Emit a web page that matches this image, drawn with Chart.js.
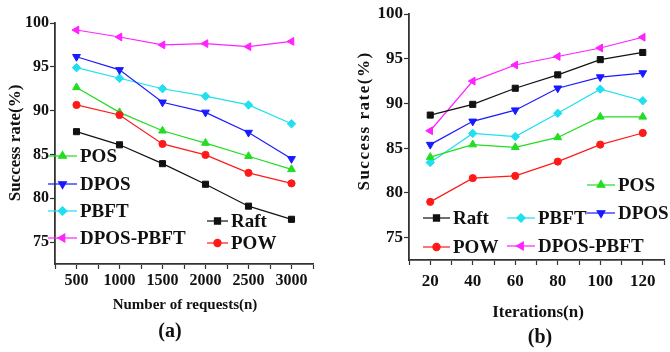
<!DOCTYPE html>
<html>
<head>
<meta charset="utf-8">
<script src="https://cdn.jsdelivr.net/npm/chart.js@4.4.1/dist/chart.umd.min.js"></script>
<style>
  body { margin: 0; background: #fff; }
  .wrap { position: absolute; top: 0; width: 335px; height: 352px; }
</style>
</head>
<body>
<div class="wrap" style="left:0"><canvas id="chartA" width="335" height="352"></canvas></div>
<div class="wrap" style="left:335px"><canvas id="chartB" width="335" height="352"></canvas></div>
<script>
// (a) success rate vs number of requests
var requests = [500, 1000, 1500, 2000, 2500, 3000];
var raftA = [87.6, 86.1, 83.95, 81.6, 79.1, 77.6];
var powA = [90.65, 89.5, 86.2, 84.95, 82.9, 81.7];
var posA = [92.65, 89.8, 87.7, 86.3, 84.8, 83.3];
var dposA = [96.15, 94.65, 90.95, 89.8, 87.5, 84.5];
var pbftA = [94.9, 93.7, 92.5, 91.65, 90.65, 88.5];
var dposPbftA = [99.2, 98.4, 97.5, 97.65, 97.3, 97.9];

// (b) success rate vs iterations
var iterations = [20, 40, 60, 80, 100, 120];
var raftB = [88.7, 89.9, 91.7, 93.2, 94.9, 95.7];
var powB = [79.0, 81.65, 81.9, 83.5, 85.4, 86.7];
var posB = [84.0, 85.4, 85.1, 86.2, 88.5, 88.5];
var dposB = [85.4, 88.0, 89.25, 91.7, 92.95, 93.4];
var pbftB = [83.4, 86.65, 86.3, 88.9, 91.6, 90.3];
var dposPbftB = [86.95, 92.5, 94.3, 95.25, 96.2, 97.4];

var yTicks = [75, 80, 85, 90, 95, 100];
var FONT = '"Liberation Serif", "Times New Roman", serif';

var styles = {
    'Raft': { color: '#111111', pointStyle: 'rect', rotation: 0, radius: 4.3 },
    'POW': { color: '#ff1a1a', pointStyle: 'circle', rotation: 0, radius: 3.6 },
    'POS': { color: '#22dd22', pointStyle: 'triangle', rotation: 0, radius: 4.5 },
    'DPOS': { color: '#1a1aff', pointStyle: 'triangle', rotation: 180, radius: 4.5 },
    'PBFT': { color: '#1ee0f0', pointStyle: 'rectRot', rotation: 0, radius: 4.2 },
    'DPOS-PBFT': { color: '#ff22ff', pointStyle: 'triangle', rotation: -90, radius: 4.5 }
};

function make_dataset(label, xs, ys) {
    let s = styles[label];
    let pts = [];
    for (let i = 0; i < xs.length; i++) pts.push({ x: xs[i], y: ys[i] });
    return {
        label: label,
        data: pts,
        borderColor: s.color,
        backgroundColor: s.color,
        pointBackgroundColor: s.color,
        pointBorderColor: s.color,
        pointStyle: s.pointStyle,
        rotation: s.rotation,
        pointRadius: s.radius,
        borderWidth: 1.2,
        pointBorderWidth: 1,
        tension: 0
    };
}

// legend + free texts drawn at fixed places on the canvas
var textPlugin = {
    id: 'freeText',
    afterDraw: function(chart, args, opts) {
        let ctx = chart.ctx;
        ctx.save();
        (opts.legend || []).forEach(function(it) {
            let s = styles[it.label];
            ctx.strokeStyle = s.color;
            ctx.fillStyle = s.color;
            ctx.lineWidth = 1.2;
            ctx.beginPath();
            ctx.moveTo(it.x0, it.y);
            ctx.lineTo(it.x1, it.y);
            ctx.stroke();
            Chart.helpers.drawPoint(ctx, { pointStyle: s.pointStyle, rotation: s.rotation, radius: s.radius, borderWidth: 1 },
                (it.x0 + it.x1) / 2, it.y);
            ctx.fillStyle = '#111';
            ctx.font = 'bold 19px ' + FONT;
            ctx.textAlign = 'left';
            ctx.textBaseline = 'middle';
            ctx.fillText(it.label, it.x1 + 3, it.y + 1);
        });
        (opts.texts || []).forEach(function(t) {
            ctx.save();
            ctx.translate(t.x, t.y);
            if (t.rotate) ctx.rotate(t.rotate * Math.PI / 180);
            ctx.fillStyle = '#111';
            ctx.font = 'bold ' + t.size + 'px ' + FONT;
            ctx.letterSpacing = (t.spacing || 0) + 'px';
            ctx.textAlign = 'center';
            ctx.textBaseline = 'middle';
            ctx.fillText(t.text, 0, 0);
            ctx.restore();
        });
        ctx.restore();
    }
};

function make_options(cfg) {
    return {
        responsive: false,
        animation: false,
        layout: { padding: cfg.padding },
        plugins: {
            legend: { display: false },
            tooltip: { enabled: false },
            freeText: { legend: cfg.legend, texts: cfg.texts }
        },
        scales: {
            x: {
                type: 'linear',
                min: cfg.xMin,
                max: cfg.xMax,
                afterBuildTicks: function(scale) {
                    let t = [];
                    for (let v = cfg.xMin; v <= cfg.xMax; v += cfg.xMinor) t.push({ value: v });
                    scale.ticks = t;
                },
                afterFit: function(scale) { scale.height = cfg.xHeight; },
                grid: { drawOnChartArea: false, drawTicks: true, tickLength: 5, color: '#333', tickWidth: 1.2 },
                border: { display: true, color: '#333', width: 1.8 },
                ticks: {
                    autoSkip: false,
                    maxRotation: 0,
                    padding: cfg.xPad,
                    color: '#111',
                    font: { family: FONT, size: cfg.xFont, weight: 'bold' },
                    callback: function(v) { return v % cfg.xMajor === 0 ? String(v) : ''; }
                }
            },
            y: {
                type: 'linear',
                min: 72.5,
                max: 100,
                afterBuildTicks: function(scale) {
                    scale.ticks = yTicks.map(function(v) { return { value: v }; });
                },
                afterFit: function(scale) { scale.width = cfg.yWidth; },
                grid: { drawOnChartArea: false, drawTicks: true, tickLength: 5, color: '#333', tickWidth: 1.2 },
                border: { display: true, color: '#333', width: 1.8 },
                ticks: {
                    padding: 1,
                    color: '#111',
                    font: { family: FONT, size: cfg.yFont, weight: 'bold' }
                }
            }
        }
    };
}

new Chart(document.getElementById('chartA'), {
    type: 'line',
    data: {
        datasets: [
            make_dataset('Raft', requests, raftA),
            make_dataset('POW', requests, powA),
            make_dataset('POS', requests, posA),
            make_dataset('DPOS', requests, dposA),
            make_dataset('PBFT', requests, pbftA),
            make_dataset('DPOS-PBFT', requests, dposPbftA)
        ]
    },
    options: make_options({
        padding: { left: 0, top: 23, right: 22, bottom: 0 },
        xMin: 250, xMax: 3250, xMinor: 250, xMajor: 500,
        xHeight: 88, yWidth: 55, xPad: 2, xFont: 16, yFont: 16,
        legend: [
            { label: 'POS', x0: 48, x1: 77, y: 156 },
            { label: 'DPOS', x0: 48, x1: 77, y: 184 },
            { label: 'PBFT', x0: 48, x1: 77, y: 211 },
            { label: 'DPOS-PBFT', x0: 48, x1: 77, y: 238 },
            { label: 'Raft', x0: 207, x1: 228, y: 221 },
            { label: 'POW', x0: 207, x1: 228, y: 243 }
        ],
        texts: [
            { text: 'Success rate(%)', x: 16, y: 143, rotate: -90, size: 17 },
            { text: 'Number of requests(n)', x: 185, y: 305, size: 15 },
            { text: '(a)', x: 170, y: 332, size: 20 }
        ]
    }),
    plugins: [textPlugin]
});

new Chart(document.getElementById('chartB'), {
    type: 'line',
    data: {
        datasets: [
            make_dataset('Raft', iterations, raftB),
            make_dataset('POW', iterations, powB),
            make_dataset('POS', iterations, posB),
            make_dataset('DPOS', iterations, dposB),
            make_dataset('PBFT', iterations, pbftB),
            make_dataset('DPOS-PBFT', iterations, dposPbftB)
        ]
    },
    options: make_options({
        padding: { left: 0, top: 14, right: 1, bottom: 0 },
        xMin: 10, xMax: 130, xMinor: 10, xMajor: 20,
        xHeight: 92, yWidth: 74, xPad: 6, xFont: 17, yFont: 17,
        legend: [
            { label: 'POS', x0: 252, x1: 280, y: 185 },
            { label: 'DPOS', x0: 252, x1: 280, y: 213 },
            { label: 'Raft', x0: 88, x1: 115, y: 218 },
            { label: 'PBFT', x0: 172, x1: 200, y: 218 },
            { label: 'POW', x0: 88, x1: 115, y: 247 },
            { label: 'DPOS-PBFT', x0: 172, x1: 200, y: 246 }
        ],
        texts: [
            { text: 'Success rate(%)', x: 30, y: 121, rotate: -90, size: 17, spacing: 1.5 },
            { text: 'Iterations(n)', x: 203, y: 313, size: 17 },
            { text: '(b)', x: 205, y: 338, size: 20 }
        ]
    }),
    plugins: [textPlugin]
});
</script>
</body>
</html>
